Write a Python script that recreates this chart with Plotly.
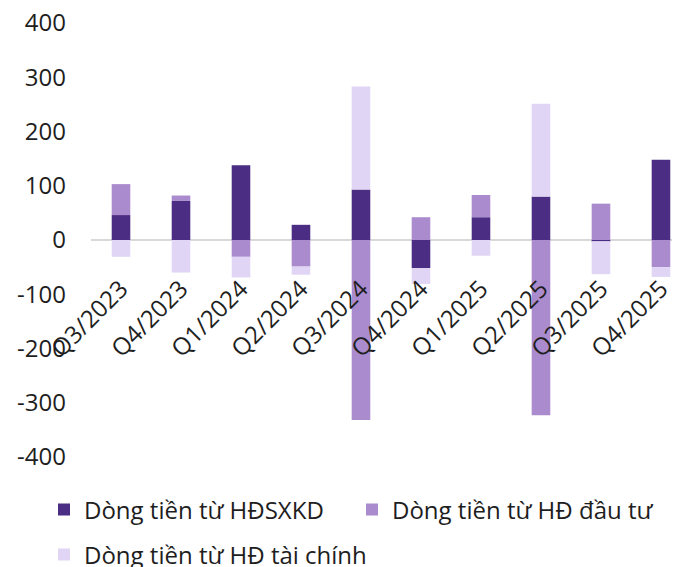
import plotly.graph_objects as go

quarters = ["Q3/2023", "Q4/2023", "Q1/2024", "Q2/2024", "Q3/2024",
            "Q4/2024", "Q1/2025", "Q2/2025", "Q3/2025", "Q4/2025"]
cf_operating = [46, 72, 138, 28, 93, -52, 42, 80, -2, 148]
cf_investing = [57, 10, -31, -49, -332, 42, 41, -323, 67, -50]
cf_financing = [-31, -60, -38, -15, 190, -29, -29, 171, -61, -18]

y_tick_values = [-400, -300, -200, -100, 0, 100, 200, 300, 400]
y_tick_labels = ["-400", "-300", "-200", "-100", "0", "100", "200", "300", "400"]

names = ["Dòng tiền từ HĐSXKD", "Dòng tiền từ HĐ đầu tư", "Dòng tiền từ HĐ tài chính"]
colors = ["#4B2D83", "#AA8CCE", "#E0D5F5"]

FONT = "Open Sans"
FS = 24
TXT = "#1e1e1e"

# page body has an 8px default margin, so the figure is 8px smaller
W, H = 672, 559

fig = go.Figure()
fig.add_trace(go.Bar(x=quarters, y=cf_operating, name=names[0], marker_color=colors[0],
                     marker_line_width=0, legend="legend"))
fig.add_trace(go.Bar(x=quarters, y=cf_investing, name=names[1], marker_color=colors[1],
                     marker_line_width=0, legend="legend2"))
fig.add_trace(go.Bar(x=quarters, y=cf_financing, name=names[2], marker_color=colors[2],
                     marker_line_width=0, legend="legend3"))


def leg(xpx, ypx):
    return dict(
        orientation="h", xref="container", yref="container",
        x=xpx / W, y=1 - ypx / H, xanchor="left", yanchor="middle",
        font=dict(family=FONT, size=FS, color=TXT), bgcolor="rgba(0,0,0,0)",
    )


fig.update_layout(
    width=W, height=H,
    margin=dict(l=83, r=0, t=15, b=110, autoexpand=False),
    paper_bgcolor="white", plot_bgcolor="white",
    barmode="relative", bargap=0.69,
    font=dict(family=FONT, size=FS, color=TXT),
    xaxis=dict(
        type="category", range=[-0.5, 9.317],
        anchor="free", position=0.5,
        tickangle=-45, showgrid=False, showline=False, ticks="",
        ticklabelstandoff=29, ticklabeloverflow="allow",
        tickfont=dict(family=FONT, size=FS, color=TXT),
    ),
    yaxis=dict(
        range=[-400, 400], tickvals=y_tick_values, ticktext=y_tick_labels,
        showgrid=False,
        zeroline=True, zerolinecolor="#D9D9D9", zerolinewidth=2,
        ticks="", ticklabelstandoff=24, ticklabeloverflow="allow",
        tickfont=dict(family=FONT, size=FS, color=TXT),
    ),
    legend=leg(36, 502),
    legend2=leg(344, 502),
    legend3=leg(36, 547),
    showlegend=True,
)

fig.write_html("out.html")
